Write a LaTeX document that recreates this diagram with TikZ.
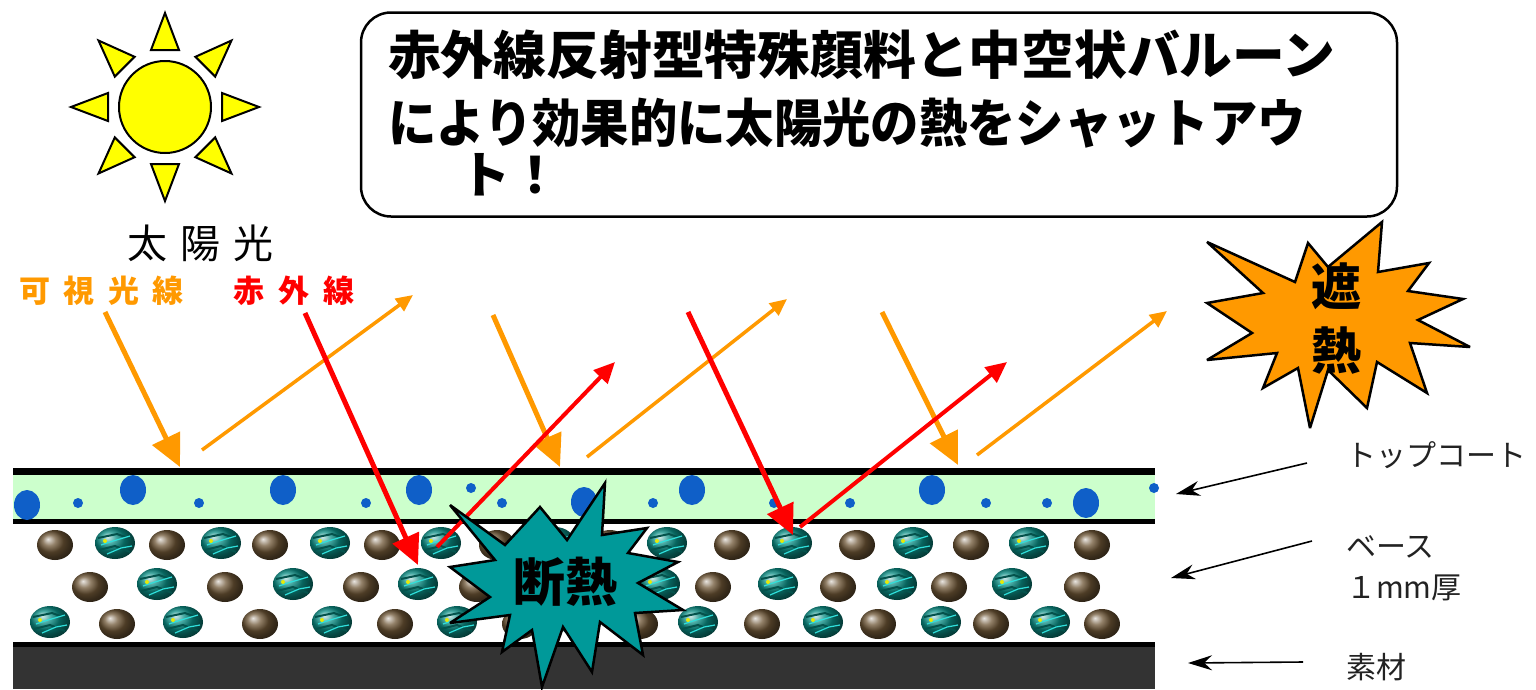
\documentclass[tikz,border=0pt]{standalone}
\usepackage{fontspec}
\newfontfamily\jp{Noto Sans CJK JP}
\usetikzlibrary{arrows.meta}

\definecolor{sunyellow}{HTML}{FFFF00}
\definecolor{rayorange}{HTML}{FF9900}
\definecolor{rayred}{HTML}{FF0000}
\definecolor{coatgreen}{HTML}{CCFFCC}
\definecolor{dotblue}{HTML}{0F5FC8}
\definecolor{substrate}{HTML}{333333}
\definecolor{beadbrown}{HTML}{6E5636}
\definecolor{pigteal}{HTML}{0B8F86}
\definecolor{pigdark}{HTML}{04524C}
\definecolor{pigcyan}{HTML}{2FE0DC}
\definecolor{burstteal}{HTML}{009999}
\definecolor{burstorange}{HTML}{FF9900}
\definecolor{labelgray}{HTML}{222222}

\tikzset{
  sunray/.style={fill=sunyellow, draw=black, line width=2pt, line join=miter},
  visin/.style={draw=rayorange, line width=5pt, -{Triangle[length=32pt,width=30pt]}},
  visout/.style={draw=rayorange, line width=3.5pt, -{Triangle[length=17pt,width=15pt]}},
  irin/.style={draw=rayred, line width=5pt, -{Triangle[length=30pt,width=28pt]}},
  irout/.style={draw=rayred, line width=4pt, -{Triangle[length=21pt,width=19pt]}},
  lblarrow/.style={draw=black, line width=1.6pt, -{Stealth[length=24pt,width=15pt]}},
  burst/.style={draw=black, line width=2.5pt, line join=miter, miter limit=4},
  bigdot/.style={fill=dotblue},
  sidelabel/.style={anchor=west, text=labelgray, font=\jp\fontsize{30}{32}\selectfont, inner sep=0pt},
  bead/.pic={
    \shade[ball color=beadbrown] (0,0) ellipse (18pt and 15pt);
  },
  pigment/.pic={
    \shade[ball color=pigteal] (0,0) ellipse (20pt and 16pt);
    \draw[pigdark, line width=2pt] (-17,-5) -- (2,-9) -- (16,-4);
    \draw[pigdark, line width=2pt] (-16,7) -- (0,3) -- (15,9);
    \draw[pigcyan, line width=1.2pt] (-14,2) -- (-2,-2) -- (15,-7);
    \draw[pigcyan, line width=1.2pt] (-8,11) -- (6,5) -- (17,3);
    \fill[yellow!90!green] (-10,-2) circle (2pt);
  }
}

\begin{document}
\begin{tikzpicture}[x=1pt, y=-1pt]
\useasboundingbox (0,0) rectangle (1536,689);

% ---------- the sun ----------
\foreach \a in {0,45,...,315}{
  \filldraw[sunray, rotate around={\a:(165,107)}] (222,93) -- (259,107) -- (222,121) -- cycle;
}
\filldraw[fill=sunyellow, draw=black, line width=2pt] (165,107) circle (46pt);
\node[font=\jp\fontsize{40}{44}\selectfont] (sunlabel) at (200,243) {太\hspace{13pt}陽\hspace{13pt}光};

% ---------- ray legend ----------
\node[anchor=west, text=rayorange, font=\jp\bfseries\fontsize{31}{34}\selectfont, inner sep=0pt] (vislabel) at (19,291) {可\hspace{13.5pt}視\hspace{13.5pt}光\hspace{13.5pt}線};
\node[anchor=west, text=rayred, font=\jp\bfseries\fontsize{31}{34}\selectfont, inner sep=0pt] (irlabel) at (233,291) {赤\hspace{14pt}外\hspace{14pt}線};

% ---------- callout ----------
\node[draw=black, line width=2.5pt, rounded corners=30pt, minimum width=1036pt, minimum height=204pt, inner sep=0pt] (callout) at (879,114.5) {};
\node[anchor=west, inner sep=0pt, font=\jp\bfseries\fontsize{52}{56}\selectfont] (line1) at (388,55) {\scalebox{1.015}[1]{赤外線反射型特殊顔料と中空状バルーン}};
\node[anchor=west, inner sep=0pt, font=\jp\bfseries\fontsize{52}{56}\selectfont] (line2) at (388,123) {\scalebox{0.93}[1]{により効果的に太陽光の熱をシャットアウ}};
\node[anchor=west, inner sep=0pt, font=\jp\bfseries\fontsize{50}{54}\selectfont] (line3) at (460,175) {ト！};

% ---------- coating layers ----------
\fill[black] (13,468) rectangle (1155,475);
\fill[coatgreen] (13,475) rectangle (1155,519);
\fill[black] (13,519) rectangle (1155,524);
\fill[white] (13,524) rectangle (1155,642);
\fill[black] (13,642) rectangle (1155,647);
\fill[substrate] (13,647) rectangle (1155,689);

% hollow balloons in the top coat
\foreach \x/\y in {27/505,133/490,283/490,419/490,584/502,692/490,932/490,1086/503}
  \fill[bigdot] (\x,\y) ellipse (13pt and 15pt);
\foreach \x/\y in {78/503,199/503,366/503,471/488,502/503,653/503,774/503,850/503,986/503,1047/503,1154/488}
  \fill[bigdot] (\x,\y) circle (5pt);

% base layer: bronze beads and pigment particles
\foreach \x in {55,167,270,382,497,610,732,857,971,1092} \pic at (\x,545) {bead};
\foreach \x in {115,221,330,441,555,667,792,913,1029} \pic at (\x,543) {pigment};
\foreach \x in {90,225,361,477,600,713,838,949,1082} \pic at (\x,587) {bead};
\foreach \x in {157,293,418,535,660,778,897,1012} \pic at (\x,584) {pigment};
\foreach \x in {117,260,395,520,640,762,878,991,1102} \pic at (\x,624) {bead};
\foreach \x in {50,183,332,457,580,698,823,941,1050} \pic at (\x,622) {pigment};

% ---------- light paths ----------
\coordinate (v1s) at (105,312);  \coordinate (v1e) at (180,467);
\coordinate (v2s) at (493,315);  \coordinate (v2e) at (560,467);
\coordinate (v3s) at (882,312);  \coordinate (v3e) at (958,465);
\coordinate (r1s) at (202,450);  \coordinate (r1e) at (413,295);
\coordinate (r2s) at (587,457);  \coordinate (r2e) at (787,299);
\coordinate (r3s) at (977,455);  \coordinate (r3e) at (1167,311);
\coordinate (i1s) at (305,313);  \coordinate (i1e) at (418,565);
\coordinate (i2s) at (688,312);  \coordinate (i2e) at (793,535);
\coordinate (o1s) at (437,547);  \coordinate (o1e) at (615,362);
\coordinate (o2s) at (800,527);  \coordinate (o2e) at (1007,362);

\draw[visout] (r1s) -- (r1e);
\draw[visout] (r2s) -- (r2e);
\draw[visout] (r3s) -- (r3e);
\draw[visin] (v1s) -- (v1e);
\draw[visin] (v2s) -- (v2e);
\draw[visin] (v3s) -- (v3e);
\draw[irin] (i1s) -- (i1e);
\draw[irin] (i2s) -- (i2e);
\draw[irout] (o1s) -- (o1e);
\draw[irout] (o2s) -- (o2e);

% ---------- insulation burst ----------
\filldraw[burst, fill=burstteal]
  (450,505) -- (505,545) -- (540,507) -- (567,540) -- (605,483) -- (602,535)
  -- (647,528) -- (628,553) -- (678,562) -- (638,583) -- (683,610) -- (635,613)
  -- (643,655) -- (600,622) -- (592,672) -- (563,627) -- (542,687) -- (532,630)
  -- (502,652) -- (510,615) -- (450,623) -- (490,597) -- (450,567) -- (495,560) -- cycle;
\node[font=\jp\bfseries\fontsize{52}{56}\selectfont, inner sep=0pt] (insul) at (565,582) {断熱};

% ---------- heat shield burst ----------
\filldraw[burst, fill=burstorange]
  (1207,242) -- (1295,282) -- (1308,243) -- (1328,267) -- (1382,222) -- (1378,272)
  -- (1429,263) -- (1408,291) -- (1463,299) -- (1418,320) -- (1470,347) -- (1410,343)
  -- (1427,393) -- (1377,362) -- (1367,408) -- (1328,370) -- (1310,428) -- (1298,368)
  -- (1263,388) -- (1277,353) -- (1207,360) -- (1252,333) -- (1207,303) -- (1263,293) -- cycle;
\node[font=\jp\bfseries\fontsize{50}{54}\selectfont, inner sep=0pt] (shieldA) at (1336,286) {遮};
\node[font=\jp\bfseries\fontsize{50}{54}\selectfont, inner sep=0pt] (shieldB) at (1336,351) {熱};

% ---------- layer labels ----------
\node[sidelabel] (topcoat) at (1346,455) {トップコート};
\node[sidelabel] (base) at (1346,547) {ベース};
\node[sidelabel] (thick) at (1346,588) {１mm厚};
\node[sidelabel] (subst) at (1346,667) {素材};

\coordinate (a1s) at (1307,463); \coordinate (a1e) at (1176,494);
\coordinate (a2s) at (1312,541); \coordinate (a2e) at (1171,578);
\coordinate (a3s) at (1303,662); \coordinate (a3e) at (1188,663);
\draw[lblarrow] (a1s) -- (a1e);
\draw[lblarrow] (a2s) -- (a2e);
\draw[lblarrow] (a3s) -- (a3e);
\end{tikzpicture}
\end{document}
